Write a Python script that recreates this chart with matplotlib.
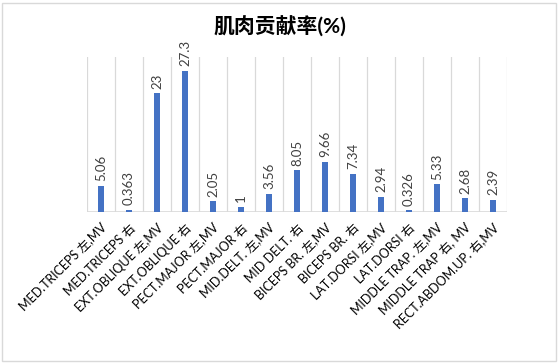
import matplotlib
matplotlib.use("Agg")
import matplotlib.pyplot as plt
from matplotlib.patches import Rectangle

plt.rcParams['font.family'] = ['Lato', 'Noto Sans CJK SC', 'DejaVu Sans']

muscles = ['MED.TRICEPS 左,MV', 'MED.TRICEPS 右', 'EXT.OBLIQUE 左,MV', 'EXT.OBLIQUE 右',
           'PECT.MAJOR 左,MV', 'PECT.MAJOR 右', 'MID.DELT. 左,MV', 'MID DELT. 右',
           'BICEPS BR. 左,MV', 'BICEPS BR. 右', 'LAT.DORSI 左,MV', 'LAT.DORSI 右',
           'MIDDLE TRAP. 左,MV', 'MIDDLE TRAP 右, MV', 'RECT.ABDOM.UP. 右,MV']
contrib = [5.06, 0.363, 23, 27.3, 2.05, 1, 3.56, 8.05, 9.66, 7.34, 2.94, 0.326, 5.33, 2.68, 2.39]
labels = ['5.06', '0.363', '23', '27.3', '2.05', '1', '3.56', '8.05', '9.66', '7.34',
          '2.94', '0.326', '5.33', '2.68', '2.39']

fig = plt.figure(figsize=(5.59, 3.63), dpi=100)
ax = fig.add_axes([87/559, 1 - 212/363, 420/559, 155/363])

x = list(range(len(muscles)))
ax.bar(x, contrib, width=0.19, color='#4472C4', zorder=3)
for xi, v, t in zip(x, contrib, labels):
    ax.text(xi, v + 0.9, t, rotation=90, ha='center', va='bottom', fontsize=9.5, color='#404040')

ax.set_xlim(-0.5, len(muscles) - 0.5)
ax.set_ylim(0, 30)
for b in range(len(muscles) + 1):
    ax.axvline(b - 0.5, color='#D9D9D9', lw=0.9, zorder=1)
ax.axhline(0, color='#D9D9D9', lw=1.2, zorder=2)

for s in ax.spines.values():
    s.set_visible(False)
ax.set_yticks([])
ax.set_xticks(x)
ax.set_xticklabels(muscles, rotation=45, ha='right', rotation_mode='anchor',
                   fontsize=9, color='#000000')
ax.tick_params(axis='x', length=0, pad=7)

fig.text(0.5, 1 - 27/363, '肌肉贡献率(%)', ha='center', va='center', fontsize=15,
         fontweight='bold', color='#000000')

fig.patches.append(Rectangle((2/559, 2/363), 1 - 5/559, 1 - 5/363, transform=fig.transFigure,
                             fill=False, edgecolor='#D9D9D9', lw=1))

fig.savefig('out.png', dpi=100)
